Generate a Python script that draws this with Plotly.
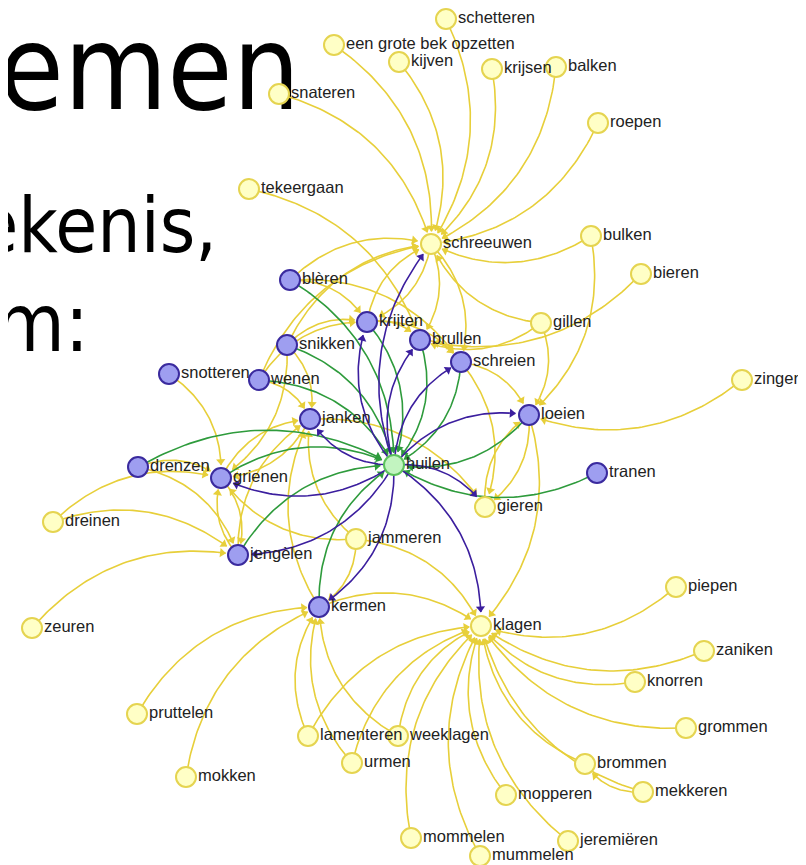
import numpy as np
import plotly.graph_objects as go

# ---------------- data ----------------
node_names = [
    "schetteren", "een grote bek opzetten", "kijven", "krijsen", "balken", "snateren",
    "roepen", "tekeergaan", "schreeuwen", "bulken", "bieren", "gillen", "zingen",
    "gieren", "jammeren", "dreinen", "zeuren", "pruttelen", "mokken", "lamenteren",
    "urmen", "weeklagen", "klagen", "piepen", "zaniken", "knorren", "grommen",
    "brommen", "mekkeren", "mopperen", "mommelen", "jeremiëren", "mummelen",
    "huilen",
    "blèren", "krijten", "brullen", "snikken", "schreien", "snotteren", "wenen",
    "janken", "loeien", "drenzen", "grienen", "tranen", "jengèlen", "kermen",
]
node_x = [
    445, 333, 398, 491, 555, 278,
    597, 248, 430, 590, 640, 540, 741,
    484, 355, 52, 31, 136, 185, 307,
    351, 397, 480, 675, 703, 634, 685,
    584, 642, 505, 410, 567, 479,
    393,
    289, 366, 419, 286, 460, 168, 258,
    309, 528, 137, 220, 596, 237, 318,
]
node_y = [
    17, 43, 60, 67, 65, 92,
    121, 187, 242, 234, 272, 321, 378,
    505, 537, 520, 626, 712, 775, 734,
    761, 734, 624, 585, 649, 680, 726,
    762, 790, 793, 836, 839, 854,
    463,
    278, 320, 338, 343, 360, 372, 378,
    417, 413, 465, 476, 471, 553, 605,
]
node_group = (["yellow"] * 33) + ["green"] + (["purple"] * 14)

yellow_edges = [
    ("schetteren", "schreeuwen"), ("een grote bek opzetten", "schreeuwen"),
    ("kijven", "schreeuwen"), ("krijsen", "schreeuwen"), ("balken", "schreeuwen"),
    ("roepen", "schreeuwen"), ("snateren", "schreeuwen"), ("bulken", "schreeuwen"),
    ("gillen", "schreeuwen"), ("blèren", "schreeuwen"), ("tekeergaan", "brullen"),
    ("schreeuwen", "brullen"), ("schreeuwen", "krijten"), ("krijten", "schreeuwen"),
    ("snikken", "schreeuwen"), ("schreeuwen", "schreien"), ("wenen", "schreeuwen"),
    ("bulken", "loeien"), ("bieren", "brullen"), ("gillen", "brullen"),
    ("gillen", "loeien"), ("zingen", "loeien"), ("schreien", "loeien"),
    ("loeien", "gieren"), ("gieren", "loeien"), ("loeien", "klagen"),
    ("brullen", "schreien"), ("krijten", "schreien"), ("krijten", "brullen"),
    ("snikken", "krijten"), ("blèren", "krijten"), ("blèren", "schreien"),
    ("wenen", "krijten"), ("snikken", "janken"), ("wenen", "janken"),
    ("snotteren", "grienen"), ("janken", "grienen"), ("grienen", "janken"),
    ("jengèlen", "janken"), ("drenzen", "jengèlen"), ("drenzen", "grienen"),
    ("dreinen", "grienen"), ("dreinen", "jengèlen"), ("zeuren", "jengèlen"),
    ("jengèlen", "grienen"), ("grienen", "jengèlen"), ("jammeren", "grienen"),
    ("jammeren", "klagen"), ("jammeren", "kermen"), ("kermen", "janken"),
    ("jammeren", "janken"), ("kermen", "klagen"), ("pruttelen", "kermen"),
    ("mokken", "kermen"), ("lamenteren", "kermen"), ("urmen", "kermen"),
    ("weeklagen", "kermen"), ("lamenteren", "klagen"), ("urmen", "klagen"),
    ("weeklagen", "klagen"), ("piepen", "klagen"), ("zaniken", "klagen"),
    ("knorren", "klagen"), ("grommen", "klagen"), ("brommen", "klagen"),
    ("mekkeren", "klagen"), ("mopperen", "klagen"), ("mommelen", "klagen"),
    ("jeremiëren", "klagen"), ("mummelen", "klagen"), ("mekkeren", "brommen"),
    ("janken", "gieren"), ("schreien", "gieren"), ("snikken", "grienen"),
]
green_edges = [
    ("blèren", "huilen"), ("snikken", "huilen"), ("wenen", "huilen"),
    ("drenzen", "huilen"), ("grienen", "huilen"), ("jengèlen", "huilen"),
    ("kermen", "huilen"), ("krijten", "huilen"), ("brullen", "huilen"),
    ("schreien", "huilen"), ("loeien", "huilen"), ("tranen", "huilen"),
]
purple_edges = [
    ("huilen", "schreeuwen"), ("huilen", "krijten"), ("huilen", "brullen"),
    ("huilen", "schreien"), ("huilen", "loeien"), ("huilen", "janken"),
    ("huilen", "grienen"), ("huilen", "jengèlen"), ("huilen", "kermen"),
    ("huilen", "klagen"), ("huilen", "gieren"),
]

slide_lines = ["emen", "ekenis,", "m:"]

# ---------------- styles ----------------
EDGE_COLORS = {"yellow": "#E7CF3A", "green": "#2E9B3C", "purple": "#3B1E9E"}
FILL = {"yellow": "#FFFFC6", "green": "#C2F4C0", "purple": "#9E9EF0"}
BORDER = {"yellow": "#E5D450", "green": "#5CC25C", "purple": "#3A2A9E"}

pos = {n: np.array([x, y], dtype=float) for n, x, y in zip(node_names, node_x, node_y)}
R = 10.5


def curve(a, b, k=0.28, n=60):
    p0, p1 = pos[a], pos[b]
    d = p1 - p0
    L = np.hypot(*d)
    left = np.array([d[1], -d[0]]) / L
    c = (p0 + p1) / 2 + left * k * L
    t = np.linspace(0, 1, n)[:, None]
    B = (1 - t) ** 2 * p0 + 2 * (1 - t) * t * c + t ** 2 * p1
    dist = np.hypot(*(B - p1).T)
    keep = dist >= R + 1
    pts = B[keep]
    tip = pts[-1]
    u = pts[-1] - pts[-3]
    u = u / np.hypot(*u)
    return pts, tip, u


fig = go.Figure()

# slide text (behind the network)
fig.add_trace(go.Scatter(
    x=[299, 216, 88], y=[77, 231, 329], mode="text", text=slide_lines,
    textposition="middle left", hoverinfo="skip", showlegend=False,
    textfont=dict(family="DejaVu Sans Condensed, DejaVu Sans", size=[118, 76, 80],
                  color="#000000"),
))

for color, edges in [("yellow", yellow_edges), ("green", green_edges), ("purple", purple_edges)]:
    xs, ys, ax, ay, ang = [], [], [], [], []
    for a, b in edges:
        pts, tip, u = curve(a, b)
        xs += list(pts[:, 0]) + [None]
        ys += list(pts[:, 1]) + [None]
        cpt = tip - u * 3.5
        ax.append(cpt[0]); ay.append(cpt[1])
        ang.append(float(np.degrees(np.arctan2(u[0], -u[1]))))
    fig.add_trace(go.Scatter(x=xs, y=ys, mode="lines", hoverinfo="skip", showlegend=False,
                             line=dict(color=EDGE_COLORS[color], width=1.6)))
    fig.add_trace(go.Scatter(x=ax, y=ay, mode="markers", hoverinfo="skip", showlegend=False,
                             marker=dict(symbol="triangle-up", size=8, angle=ang,
                                         color=EDGE_COLORS[color], line=dict(width=0))))

for grp in ["yellow", "green", "purple"]:
    idx = [i for i, g in enumerate(node_group) if g == grp]
    fig.add_trace(go.Scatter(
        x=[node_x[i] for i in idx], y=[node_y[i] for i in idx], mode="markers",
        hoverinfo="text", hovertext=[node_names[i] for i in idx], showlegend=False,
        marker=dict(size=20, color=FILL[grp], line=dict(color=BORDER[grp], width=2)),
    ))

fig.add_trace(go.Scatter(
    x=[x + 12 for x in node_x], y=node_y, mode="text", text=node_names,
    textposition="middle right", hoverinfo="skip", showlegend=False,
    textfont=dict(family="Liberation Sans, Arial, sans-serif", size=16.5, color="#222222"),
))

# the page adds a small body margin; offset the ranges so marks land where they belong
fig.update_layout(
    width=806, height=865, margin=dict(l=0, r=0, t=0, b=0),
    paper_bgcolor="white", plot_bgcolor="white",
    xaxis=dict(range=[7, 813], visible=False, fixedrange=True),
    yaxis=dict(range=[871, 6], visible=False, fixedrange=True),
)

fig.write_html("out.html")
